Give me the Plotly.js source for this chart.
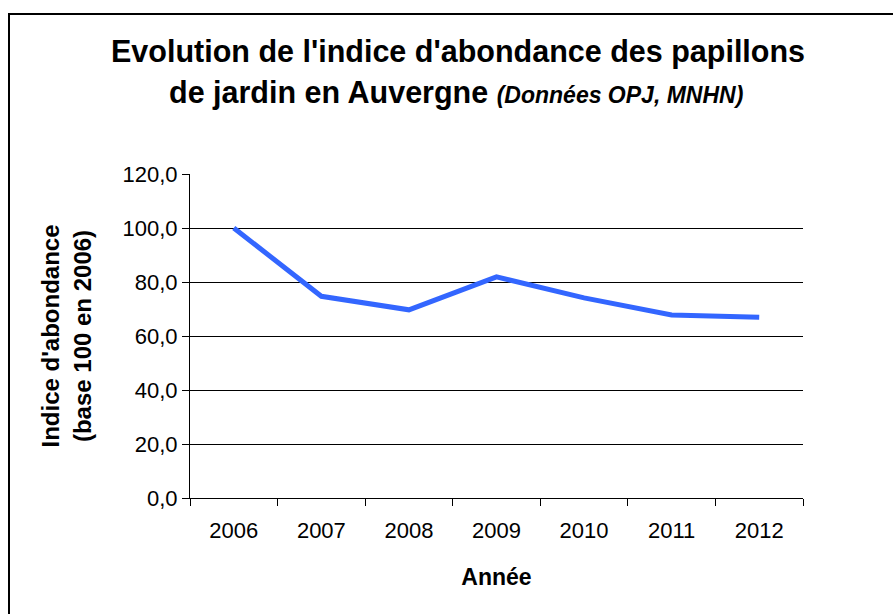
<!DOCTYPE html>
<html>
<head>
<meta charset="utf-8">
<script src="https://cdn.plot.ly/plotly-3.0.1.min.js"></script>
<style>
html,body{margin:0;padding:0;background:#fff;overflow:hidden;}
#wrap{position:relative;width:893px;height:614px;}
#chart{width:893px;height:614px;}
#frame{position:absolute;left:8px;top:13px;width:900px;height:620px;border:2px solid #000;pointer-events:none;box-sizing:border-box;}
</style>
</head>
<body>
<div id="wrap"><div id="chart"></div><div id="frame"></div></div>
<script>
const years = ['2006','2007','2008','2009','2010','2011','2012'];
const indice = [100.0, 74.7, 69.7, 81.9, 74.1, 67.8, 66.9];
const yTicks = [0, 20, 40, 60, 80, 100, 120];

const font = 'Liberation Sans, Arial, sans-serif';

const trace = {
  x: years,
  y: indice,
  type: 'scatter',
  mode: 'lines',
  line: {color: '#3366FF', width: 5},
  hoverinfo: 'x+y'
};

const layout = {
  width: 893,
  height: 614,
  paper_bgcolor: '#fff',
  plot_bgcolor: '#fff',
  margin: {l: 190, r: 90, t: 174, b: 116},
  separators: ',.',
  showlegend: false,
  font: {family: font, color: '#000', size: 22},
  xaxis: {
    type: 'category',
    range: [-0.5, 6.5],
    tickson: 'boundaries',
    ticks: 'outside',
    ticklen: 7,
    tickcolor: '#000',
    showline: true,
    linecolor: '#000',
    linewidth: 1,
    showgrid: false,
    tickfont: {family: font, size: 22},
    ticklabelstandoff: 13,
    title: {text: '<b>Année</b>', font: {family: font, size: 23}, standoff: 26},
    fixedrange: true
  },
  yaxis: {
    range: [0, 120],
    tickvals: yTicks,
    tickformat: '.1f',
    ticks: 'outside',
    ticklen: 7,
    tickcolor: '#000',
    showline: true,
    linecolor: '#000',
    linewidth: 1,
    showgrid: true,
    gridcolor: '#000',
    gridwidth: 1,
    zeroline: false,
    tickfont: {family: font, size: 22},
    title: {text: "<b>Indice d'abondance<br>(base 100 en 2006)</b>", font: {family: font, size: 24}, standoff: 24},
    fixedrange: true
  },
  annotations: [
    {xref: 'paper', yref: 'paper', x: 0.5, y: 1, xanchor: 'center', yanchor: 'middle',
     text: "<b>Evolution de l'indice d'abondance des papillons</b>",
     showarrow: false, font: {family: font, size: 30.5}, xshift: -39, yshift: 174 - 51},
    {xref: 'paper', yref: 'paper', x: 0.5, y: 1, xanchor: 'center', yanchor: 'middle',
     text: "<b>de jardin en Auvergne</b> <b><i><span style='font-size:23px'>(Données OPJ, MNHN)</span></i></b>",
     showarrow: false, font: {family: font, size: 30.5}, xshift: -41, yshift: 174 - 92}
  ]
};

Plotly.newPlot('chart', [trace], layout, {displayModeBar: false});
</script>
</body>
</html>
